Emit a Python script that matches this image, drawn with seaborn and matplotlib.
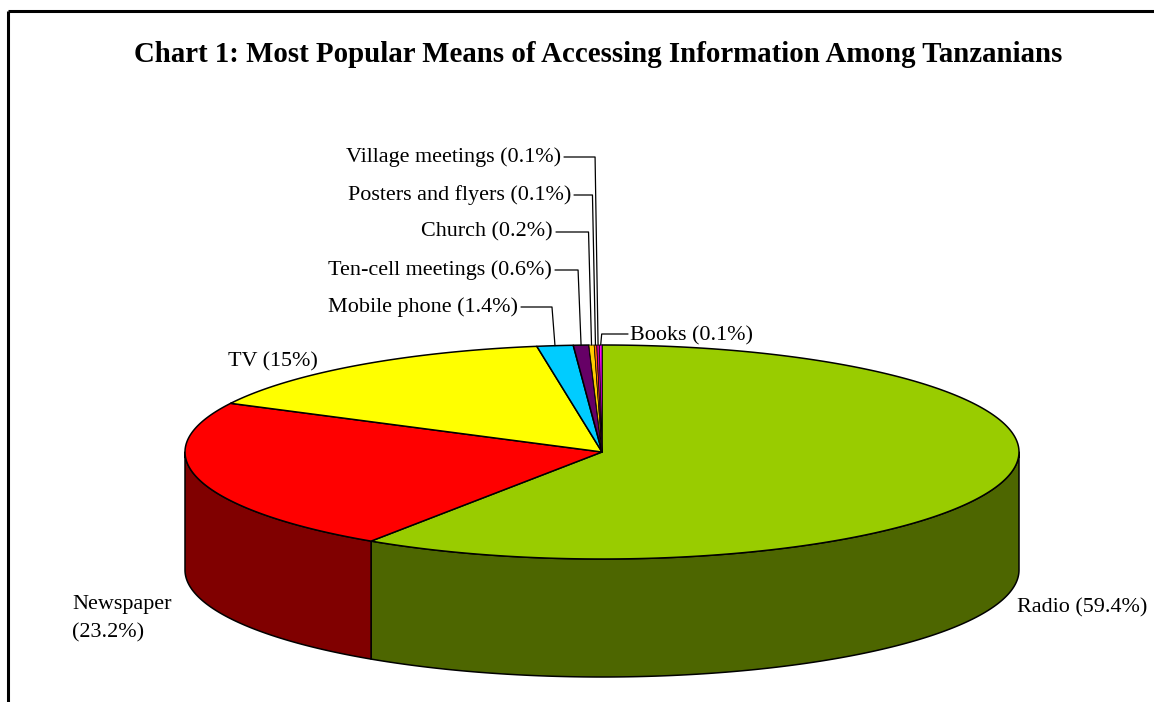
import numpy as np
import matplotlib
matplotlib.use("Agg")
import matplotlib.pyplot as plt
from matplotlib.patches import Polygon
import seaborn as sns

# ---- data -------------------------------------------------------------
categories = ["Radio", "Newspaper", "TV", "Mobile phone", "Ten-cell meetings",
              "Church", "Posters and flyers", "Village meetings", "Books"]
shares = [59.4, 23.2, 15, 1.4, 0.6, 0.2, 0.1, 0.1, 0.1]
top_colors = ["#99CC00", "#FF0000", "#FFFF00", "#00CCFF", "#660066",
              "#FFCC00", "#FF6600", "#CC0099", "#FF00FF"]
title = "Chart 1: Most Popular Means of Accessing Information Among Tanzanians"

# ---- style --------------------------------------------------------------
sns.set_theme(style="white")
plt.rcParams["font.family"] = ["Liberation Serif", "DejaVu Serif"]
plt.rcParams["text.color"] = "black"
palette = sns.color_palette(top_colors)
side_palette = [tuple(0.5 * c for c in col) for col in palette]

W, H = 1154, 702
fig = plt.figure(figsize=(W / 100, H / 100), dpi=100)
ax = fig.add_axes([0, 0, 1, 1])
ax.set_xlim(0, W)
ax.set_ylim(H, 0)
ax.axis("off")

# outer frame of the chart area (top and left edges)
ax.plot([8, W], [11, 11], color="black", lw=2.2, solid_capstyle="butt")
ax.plot([8, 8], [11, H], color="black", lw=2.2, solid_capstyle="butt")

# ---- 3-D pie geometry ----------------------------------------------------
cx, cy, rx, ry, depth = 602, 452, 417, 107, 118
total = float(np.sum(shares))
bounds = np.concatenate([[0], np.cumsum(shares)]) / total  # clockwise from 12 o'clock


def to_angle(frac):
    return np.pi / 2 - 2 * np.pi * frac


def ellipse_pt(theta, dz=0.0):
    return cx + rx * np.cos(theta), cy - ry * np.sin(theta) + dz


edge_kw = dict(edgecolor="black", linewidth=1.1, joinstyle="round")

# side walls: only the front half of the cylinder (screen-lower half) is visible
for i in range(len(shares)):
    t0, t1 = to_angle(bounds[i + 1]), to_angle(bounds[i])  # t0 < t1
    for shift in (0, -2 * np.pi, 2 * np.pi):
        a0, a1 = t0 + shift, t1 + shift
        lo, hi = max(a0, -np.pi), min(a1, 0.0)
        if hi > lo:
            th = np.linspace(lo, hi, 200)
            xs, ys = ellipse_pt(th)
            xb, yb = ellipse_pt(th[::-1], depth)
            pts = np.column_stack([np.concatenate([xs, xb]), np.concatenate([ys, yb])])
            ax.add_patch(Polygon(pts, closed=True, facecolor=side_palette[i], **edge_kw))

# top faces
for i in range(len(shares)):
    t_start, t_end = to_angle(bounds[i]), to_angle(bounds[i + 1])
    n = max(4, int(abs(t_end - t_start) / (2 * np.pi) * 720))
    th = np.linspace(t_start, t_end, n)
    xs, ys = ellipse_pt(th)
    pts = np.column_stack([np.concatenate([[cx], xs]), np.concatenate([[cy], ys])])
    lw = 1.1 if shares[i] >= 0.5 else 0.5
    ax.add_patch(Polygon(pts, closed=True, facecolor=palette[i], edgecolor="black",
                         linewidth=lw, joinstyle="round"))

# ---- labels -----------------------------------------------------------
fs = 15.9
labels = [f"{c} ({v:g}%)" for c, v in zip(categories, shares)]
mid_pts = [ellipse_pt(to_angle((bounds[i] + bounds[i + 1]) / 2)) for i in range(len(shares))]

# large slices: plain labels
ax.text(1017, 608, labels[0], fontsize=fs, ha="left", va="center")
ax.text(72, 619, f"{categories[1]}\n({shares[1]:g}%)", fontsize=fs, ha="left",
        va="center", linespacing=1.65)
ax.text(318, 362, labels[2], fontsize=fs, ha="right", va="center")

# small slices on the left with elbow leader lines
left_layout = {3: (518, 307), 4: (552, 270), 5: (553, 232), 6: (571, 195), 7: (561, 157)}
for i, (xr, yl) in left_layout.items():
    ax.text(xr, yl, labels[i], fontsize=fs, ha="right", va="center")
    mx, my = mid_pts[i]
    ax.plot([xr + 3, mx - 3, mx], [yl, yl, my], color="black", lw=0.9)

# Books to the right of the top
mx, my = mid_pts[8]
ax.plot([mx, mx + 1, 628], [my, 334, 334], color="black", lw=0.9)
ax.text(630, 336, labels[8], fontsize=fs, ha="left", va="center")

ax.text(598, 54, title, fontsize=20.8, fontweight="bold", ha="center", va="center")

fig.savefig("out.png", dpi=100)
